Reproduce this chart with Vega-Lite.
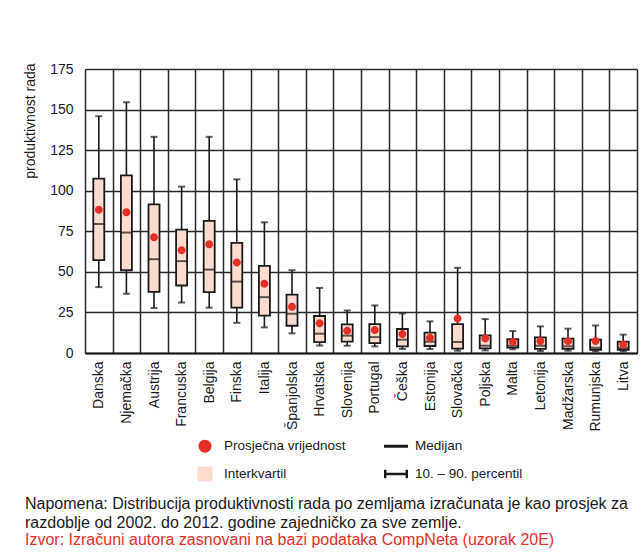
{
  "$schema": "https://vega.github.io/schema/vega-lite/v6.json",
  "autosize": {"type": "none"},
  "width": 552,
  "height": 284,
  "padding": {"left": 85, "top": 69, "right": 6, "bottom": 200},
  "background": "white",
  "data": {"values": [
    {"c": "Danska", "p10": 40.6, "q1": 57.2, "med": 79.5, "q3": 107.4, "p90": 145.9, "mean": 88.3},
    {"c": "Njemačka", "p10": 36.5, "q1": 51, "med": 74.2, "q3": 109.4, "p90": 154.5, "mean": 86.7},
    {"c": "Austrija", "p10": 27.7, "q1": 37.7, "med": 57.8, "q3": 91.6, "p90": 133.2, "mean": 71.3},
    {"c": "Francuska", "p10": 31.1, "q1": 41.6, "med": 56.6, "q3": 76, "p90": 102.5, "mean": 63.3},
    {"c": "Belgija", "p10": 27.9, "q1": 37.5, "med": 51.4, "q3": 81.4, "p90": 133.2, "mean": 67},
    {"c": "Finska", "p10": 18.6, "q1": 27.9, "med": 44, "q3": 67.8, "p90": 107, "mean": 55.7},
    {"c": "Italija", "p10": 15.8, "q1": 23, "med": 34.4, "q3": 53.7, "p90": 80.5, "mean": 42.6},
    {"c": "Španjolska", "p10": 12.1, "q1": 16.8, "med": 24.2, "q3": 36, "p90": 51, "mean": 28.5},
    {"c": "Hrvatska", "p10": 4.6, "q1": 6.7, "med": 11.9, "q3": 22.8, "p90": 40.1, "mean": 18.3},
    {"c": "Slovenija", "p10": 4.5, "q1": 7, "med": 10.7, "q3": 17.6, "p90": 26.2, "mean": 13.7},
    {"c": "Portugal", "p10": 4.1, "q1": 6.1, "med": 9.8, "q3": 17.8, "p90": 29.3, "mean": 14.1},
    {"c": "Češka", "p10": 2.5, "q1": 4.1, "med": 8.2, "q3": 14.8, "p90": 24.4, "mean": 11.7},
    {"c": "Estonija", "p10": 2.5, "q1": 4.3, "med": 7, "q3": 12.5, "p90": 19.5, "mean": 9.4},
    {"c": "Slovačka", "p10": 1.4, "q1": 2.7, "med": 6.8, "q3": 17.8, "p90": 52.5, "mean": 21.3},
    {"c": "Poljska", "p10": 1.6, "q1": 2.9, "med": 4.5, "q3": 10.9, "p90": 20.9, "mean": 9},
    {"c": "Malta", "p10": 2.3, "q1": 3.3, "med": 4.5, "q3": 8.6, "p90": 13.5, "mean": 7},
    {"c": "Letonija", "p10": 1.2, "q1": 2.5, "med": 4.5, "q3": 9.6, "p90": 16.4, "mean": 7.4},
    {"c": "Madžarska", "p10": 1.4, "q1": 2.5, "med": 4.1, "q3": 8.8, "p90": 15, "mean": 7.2},
    {"c": "Rumunjska", "p10": 1, "q1": 2, "med": 3.3, "q3": 8.2, "p90": 17, "mean": 7.4},
    {"c": "Litva", "p10": 1, "q1": 2, "med": 3.1, "q3": 7, "p90": 11.3, "mean": 5.3}
  ]},
  "title": {
    "text": ["Napomena: Distribucija produktivnosti rada po zemljama izračunata je kao prosjek za", "razdoblje od 2002. do 2012. godine zajedničko za sve zemlje."],
    "subtitle": "Izvor: Izračuni autora zasnovani na bazi podataka CompNeta (uzorak 20E)",
    "orient": "bottom",
    "anchor": "start",
    "frame": "group",
    "dx": -60,
    "offset": 14,
    "font": "Liberation Sans",
    "fontSize": 16,
    "fontWeight": "normal",
    "color": "#1a1a1a",
    "lineHeight": 18.5,
    "subtitleFont": "Liberation Sans",
    "subtitleFontSize": 16,
    "subtitleColor": "#e53027",
    "subtitlePadding": 1
  },
  "encoding": {
    "x": {"field": "c", "type": "nominal", "sort": null, "title": null,
      "scale": {"paddingInner": 0, "paddingOuter": 0}}
  },
  "layer": [
    {"mark": {"type": "rule", "color": "#1a1a1a", "strokeWidth": 1.6},
     "encoding": {
       "y": {"field": "p10", "type": "quantitative", "title": "produktivnost rada",
         "scale": {"domain": [0, 175], "nice": false},
         "axis": {"values": [0, 25, 50, 75, 100, 125, 150, 175]}},
       "y2": {"field": "p90"}}},
    {"mark": {"type": "bar", "size": 11, "fill": "#fbdccf", "stroke": "#1a1a1a", "strokeWidth": 1.8},
     "encoding": {
       "y": {"field": "q1", "type": "quantitative", "title": "produktivnost rada"},
       "y2": {"field": "q3"}}},
    {"mark": {"type": "tick", "size": 11, "thickness": 2, "color": "#1a1a1a"},
     "encoding": {"y": {"field": "med", "type": "quantitative", "title": "produktivnost rada"}}},
    {"mark": {"type": "tick", "size": 7, "thickness": 2, "color": "#1a1a1a"},
     "encoding": {"y": {"field": "p10", "type": "quantitative", "title": "produktivnost rada"}}},
    {"mark": {"type": "tick", "size": 7, "thickness": 2, "color": "#1a1a1a"},
     "encoding": {"y": {"field": "p90", "type": "quantitative", "title": "produktivnost rada"}}},
    {"mark": {"type": "point", "filled": true, "size": 219, "opacity": 1},
     "encoding": {
       "y": {"field": "mean", "type": "quantitative", "title": "produktivnost rada"},
       "color": {"datum": "Prosječna vrijednost", "type": "nominal",
         "scale": {"domain": ["Prosječna vrijednost", "Medijan", "Interkvartil", "10. – 90. percentil"],
           "range": ["#e53027", "#1a1a1a", "#fbdccf", "#1a1a1a"]},
         "legend": {"title": null}},
       "shape": {"datum": "Prosječna vrijednost", "type": "nominal",
         "scale": {"domain": ["Prosječna vrijednost", "Medijan", "Interkvartil", "10. – 90. percentil"],
           "range": [
             "M-0.54,0A0.54,0.54,0,1,0,0.54,0A0.54,0.54,0,1,0,-0.54,0Z",
             "M-1,-0.125H1V0.125H-1Z",
             "M-0.625,-0.625H0.625V0.625H-0.625Z",
             "M-1,-0.1H1V0.1H-1ZM-1,-0.35H-0.8V0.35H-1ZM0.8,-0.35H1V0.35H0.8Z"
           ]},
         "legend": {"title": null}}
     }}
  ],
  "config": {
    "view": {"stroke": null},
    "font": "Liberation Sans",
    "axis": {
      "labelFont": "Liberation Sans",
      "labelFontSize": 14,
      "labelColor": "#1a1a1a",
      "titleFont": "Liberation Sans",
      "titleFontSize": 14,
      "titleFontWeight": "normal",
      "titleColor": "#1a1a1a",
      "gridColor": "#2a2a2a",
      "gridWidth": 1.5,
      "gridOpacity": 1
    },
    "axisX": {
      "grid": true,
      "tickBand": "extent",
      "ticks": false,
      "domainColor": "#1a1a1a",
      "domainWidth": 2,
      "labelAngle": 270,
      "labelAlign": "right",
      "labelBaseline": "middle",
      "labelPadding": 8
    },
    "axisY": {
      "grid": true,
      "ticks": false,
      "domain": false,
      "labelPadding": 12,
      "titleAngle": -90,
      "titleAlign": "right",
      "titleBaseline": "middle",
      "titleX": -55,
      "titleY": -6
    },
    "legend": {
      "orient": "none",
      "legendX": 108,
      "legendY": 365,
      "columns": 2,
      "direction": "horizontal",
      "padding": 0,
      "symbolSize": 576,
      "symbolStrokeWidth": 0,
      "symbolOpacity": 1,
      "labelFont": "Liberation Sans",
      "labelFontSize": 13.5,
      "labelColor": "#1a1a1a",
      "labelOffset": 7,
      "columnPadding": 38,
      "rowPadding": 9
    }
  }
}
